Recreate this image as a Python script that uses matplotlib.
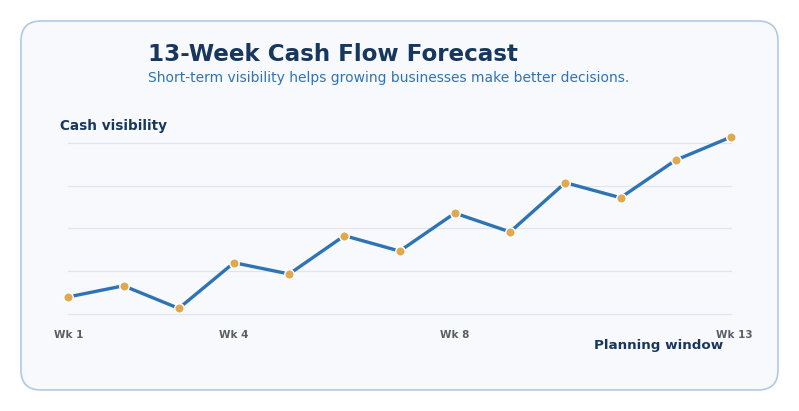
import matplotlib.pyplot as plt
from matplotlib.patches import FancyBboxPatch
from matplotlib.transforms import ScaledTranslation

# weekly cash visibility (arbitrary units)
weeks = list(range(1, 14))
cash = [10, 16.5, 3.3, 30, 23.4, 45.8, 36.8, 59, 48, 76.8, 68, 90, 103.5]
tick_weeks = [1, 4, 8, 13]
tick_labels = ["Wk 1", "Wk 4", "Wk 8", "Wk 13"]
grid_levels = [0, 25, 50, 75, 100]

NAVY = "#17375e"
BLUE = "#2e74b5"
GOLD = "#dfa94f"

fig = plt.figure(figsize=(7.99, 4.11), dpi=100)
fig.patch.set_facecolor("white")

# rounded card behind everything
card = FancyBboxPatch((21 / 799, 21 / 411), 757 / 799, 369 / 411,
                      boxstyle="round,pad=0,rounding_size=0.025",
                      transform=fig.transFigure, facecolor="#f7f9fc",
                      edgecolor="#b3c9e2", linewidth=1.2, zorder=-5,
                      mutation_aspect=799 / 411)
fig.patches.append(card)

fig.text(148 / 799, 1 - 54 / 411, "13-Week Cash Flow Forecast", fontsize=16.6,
         fontweight="bold", color=NAVY, va="center", ha="left")
fig.text(148 / 799, 1 - 78 / 411,
         "Short-term visibility helps growing businesses make better decisions.",
         fontsize=10, color=BLUE, va="center", ha="left")
fig.text(60 / 799, 1 - 126 / 411, "Cash visibility", fontsize=9.8,
         fontweight="bold", color=NAVY, va="center", ha="left")
fig.text(723 / 799, 1 - 345 / 411, "Planning window", fontsize=9.7,
         fontweight="bold", color=NAVY, va="center", ha="right")

ax = fig.add_axes([0.0855, 0.236, 0.8294, 0.4577])
ax.set_facecolor("none")
ax.set_xlim(1, 13)
ax.set_ylim(0, 110)
for lvl in grid_levels:
    ax.axhline(lvl, color="#e1e6ed", linewidth=0.9, zorder=1, clip_on=False)

ax.plot(weeks, cash, color=BLUE, linewidth=2.4, zorder=3, clip_on=False,
        marker="o", markersize=6.8, markerfacecolor=GOLD,
        markeredgecolor="white", markeredgewidth=1.0)

ax.set_xticks(tick_weeks)
ax.set_xticklabels(tick_labels, fontsize=7.5, fontweight="bold", color="#5a5f66")
ax.tick_params(axis="x", length=0, pad=11.5)
last = ax.get_xticklabels()[-1]
last.set_transform(last.get_transform() + ScaledTranslation(3.5 / 100, 0, fig.dpi_scale_trans))
ax.set_yticks([])
for s in ax.spines.values():
    s.set_visible(False)

fig.savefig("out.png", dpi=100, facecolor="white")
